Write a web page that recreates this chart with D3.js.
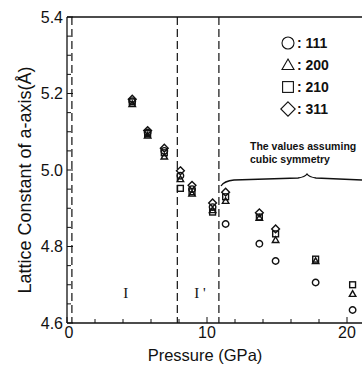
<!DOCTYPE html>
<html>
<head>
<meta charset="utf-8">
<script src="https://cdn.jsdelivr.net/npm/d3@7"></script>
<style>
  body { margin: 0; background: #fff; }
  text { font-family: "Liberation Sans", Arial, sans-serif; fill: #111; }
</style>
</head>
<body>
<div id="chart"></div>
<script>
// pressure (GPa) of each measurement
const pressures = [4.66, 5.76, 6.95, 8.1, 8.93, 10.4, 11.33, 13.74, 14.9, 17.76, 20.4];
// lattice constant (A) from each reflection
const a111 = [5.180, 5.098, 5.050, 4.985, 4.950, 4.903, 4.859, 4.807, 4.762, 4.706, 4.634];
const a200 = [5.172, 5.090, 5.035, 4.976, 4.938, 4.895, 4.919, 4.875, 4.817, 4.762, 4.676];
const a210 = [5.178, 5.095, 5.045, 4.952, 4.943, 4.890, 4.930, 4.877, 4.833, 4.767, 4.700];
const a311 = [5.185, 5.103, 5.057, 4.998, 4.960, 4.914, 4.942, 4.888, 4.846, null, null];

const legendLabels = ["111", "200", "210", "311"];
const phaseBounds = [0.35, 7.88, 10.85];
const phaseLabels = [{ p: 4.2, t: "I" }, { p: 9.5, t: "I '" }];
const yTicks = [4.6, 4.8, 5.0, 5.2, 5.4];
const xTicks = [0, 10, 20];

const W = 362, H = 370;
const svg = d3.select("#chart").append("svg")
  .attr("width", W).attr("height", H);

const x = d3.scaleLinear().domain([0, 21.1]).range([67, 362.4]);
const y = d3.scaleLinear().domain([4.6, 5.4]).range([323, 17]);

// frame: left, bottom, top
svg.append("line").attr("x1", x(0)).attr("x2", x(0)).attr("y1", y(5.4)).attr("y2", y(4.6))
  .attr("stroke", "#111").attr("stroke-width", 1.3);
svg.append("line").attr("x1", x(0)).attr("x2", W).attr("y1", y(4.6)).attr("y2", y(4.6))
  .attr("stroke", "#111").attr("stroke-width", 1.3);
svg.append("line").attr("x1", x(0)).attr("x2", W).attr("y1", y(5.4)).attr("y2", y(5.4))
  .attr("stroke", "#111").attr("stroke-width", 1.3);

// inward ticks
const yMinor = d3.range(4.6, 5.401, 0.05);
svg.selectAll(".ytick").data(yMinor).enter().append("line")
  .attr("x1", x(0)).attr("x2", d => x(0) + (Math.abs(d * 10 - Math.round(d * 10)) < 0.01 && Math.round(d * 10) % 2 === 0 ? 6 : 4))
  .attr("y1", d => y(d)).attr("y2", d => y(d))
  .attr("stroke", "#111").attr("stroke-width", 1);
const xMinor = d3.range(0, 21, 2);
svg.selectAll(".xtick").data(xMinor).enter().append("line")
  .attr("x1", d => x(d)).attr("x2", d => x(d))
  .attr("y1", y(4.6)).attr("y2", d => y(4.6) - (d % 10 === 0 ? 6 : 4))
  .attr("stroke", "#111").attr("stroke-width", 1);

svg.selectAll(".ylab").data(yTicks).enter().append("text")
  .attr("x", 63).attr("y", d => y(d)).attr("dy", "0.36em")
  .attr("text-anchor", "end").style("font-size", "16px")
  .text(d => d.toFixed(1));
svg.selectAll(".xlab").data(xTicks).enter().append("text")
  .attr("x", d => x(d) + (d === 0 ? 2 : 0)).attr("y", 338)
  .attr("text-anchor", "middle").style("font-size", "16px")
  .text(d => d);

// axis titles
svg.append("text").attr("x", 205).attr("y", 361)
  .attr("text-anchor", "middle").style("font-size", "16.5px")
  .text("Pressure (GPa)");
svg.append("text")
  .attr("transform", "translate(31,180) rotate(-90)")
  .attr("text-anchor", "middle").style("font-size", "18px")
  .text("Lattice Constant of a-axis(Å)");

// phase boundaries
svg.selectAll(".bound").data(phaseBounds).enter().append("line")
  .attr("x1", d => x(d)).attr("x2", d => x(d))
  .attr("y1", y(5.4)).attr("y2", y(4.6))
  .attr("stroke", "#111").attr("stroke-width", 1.2)
  .attr("stroke-dasharray", "8,4");
svg.selectAll(".phase").data(phaseLabels).enter().append("text")
  .attr("x", d => x(d.p)).attr("y", 298)
  .attr("text-anchor", "middle")
  .style("font-family", "'Liberation Serif', 'Times New Roman', serif")
  .style("font-size", "15px")
  .text(d => d.t);

// markers
function marker(sel, kind, s) {
  if (kind === 0) return sel.append("circle").attr("r", s * 0.5);
  if (kind === 1) {
    const h = s * 0.5;
    return sel.append("path").attr("d", `M0,${-h}L${h},${h * 0.75}L${-h},${h * 0.75}Z`);
  }
  if (kind === 2) return sel.append("rect").attr("x", -s * 0.45).attr("y", -s * 0.45).attr("width", s * 0.9).attr("height", s * 0.9);
  const h = s * 0.6;
  return sel.append("path").attr("d", `M0,${-h}L${h},0L0,${h}L${-h},0Z`);
}

const series = [a111, a200, a210, a311];
series.forEach((vals, k) => {
  const pts = pressures.map((p, i) => ({ p, v: vals[i] })).filter(d => d.v != null);
  pts.forEach(d => {
    const g = svg.append("g").attr("transform", `translate(${x(d.p)},${y(d.v)})`);
    marker(g, k, 6.5).attr("fill", "none").attr("stroke", "#111").attr("stroke-width", 1.4);
  });
});

// legend
const legY = [43, 65, 87, 109];
legendLabels.forEach((t, k) => {
  const g = svg.append("g").attr("transform", `translate(288,${legY[k]})`);
  marker(g, k, 12).attr("fill", "none").attr("stroke", "#111").attr("stroke-width", 1.1);
  svg.append("text").attr("x", 297).attr("y", legY[k]).attr("dy", "0.36em")
    .style("font-size", "14px").style("font-weight", "bold")
    .text(": " + t);
});

// note and brace
svg.append("text").attr("x", 250).attr("y", 150)
  .style("font-size", "10.5px").style("font-weight", "bold").text("The values assuming");
svg.append("text").attr("x", 250).attr("y", 163)
  .style("font-size", "10.5px").style("font-weight", "bold").text("cubic symmetry");
svg.append("path")
  .attr("d", "M221,186 Q224,181 234,180 L298,178 Q305,177 307,174 Q309,177 316,178 L362,180")
  .attr("fill", "none").attr("stroke", "#111").attr("stroke-width", 1.3);
</script>
</body>
</html>
